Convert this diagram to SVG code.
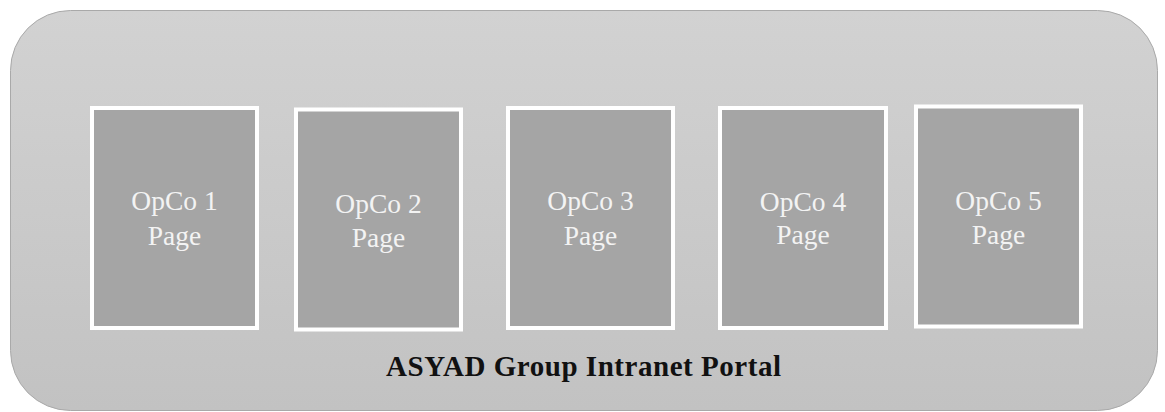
<svg xmlns="http://www.w3.org/2000/svg" width="1165" height="412" viewBox="0 0 1165 412">
  <defs>
    <linearGradient id="portalFill" x1="0" y1="0" x2="0" y2="1">
      <stop offset="0" stop-color="#d2d2d2"/>
      <stop offset="1" stop-color="#c2c2c2"/>
    </linearGradient>
  </defs>
  <style>
    .portal { fill: url(#portalFill); stroke: #a9a9a9; stroke-width: 1; }
    .page { fill: #a5a5a5; stroke: #ffffff; stroke-width: 4; }
    .page-label { font-family: "Liberation Serif", "Times New Roman", serif; font-size: 27.5px; fill: #f3f3f3; text-anchor: middle; }
    .portal-label { font-family: "Liberation Serif", "Times New Roman", serif; font-size: 29px; font-weight: bold; fill: #111111; text-anchor: middle; }
  </style>

  <!-- Portal container -->
  <g id="portal">
    <rect class="portal" x="10.5" y="10.5" width="1147" height="400" rx="60" ry="60"/>
    <text class="portal-label" x="583.5" y="376" textLength="395" lengthAdjust="spacing">ASYAD Group Intranet Portal</text>
  </g>

  <!-- OpCo pages -->
  <g id="opco1">
    <rect class="page" x="92" y="108" width="165" height="220"/>
    <text class="page-label" x="174.5" y="210">OpCo 1</text>
    <text class="page-label" x="174.5" y="245">Page</text>
  </g>
  <g id="opco2">
    <rect class="page" x="296" y="109.5" width="165" height="220"/>
    <text class="page-label" x="378.5" y="213">OpCo 2</text>
    <text class="page-label" x="378.5" y="247">Page</text>
  </g>
  <g id="opco3">
    <rect class="page" x="508" y="108" width="165" height="220"/>
    <text class="page-label" x="590.5" y="210">OpCo 3</text>
    <text class="page-label" x="590.5" y="245">Page</text>
  </g>
  <g id="opco4">
    <rect class="page" x="720" y="108" width="166" height="220"/>
    <text class="page-label" x="803" y="211">OpCo 4</text>
    <text class="page-label" x="803" y="244">Page</text>
  </g>
  <g id="opco5">
    <rect class="page" x="916" y="106.5" width="165" height="220"/>
    <text class="page-label" x="998.5" y="210">OpCo 5</text>
    <text class="page-label" x="998.5" y="243.5">Page</text>
  </g>

  <!-- No connectors between pages -->
  <g id="connectors"/>
</svg>
